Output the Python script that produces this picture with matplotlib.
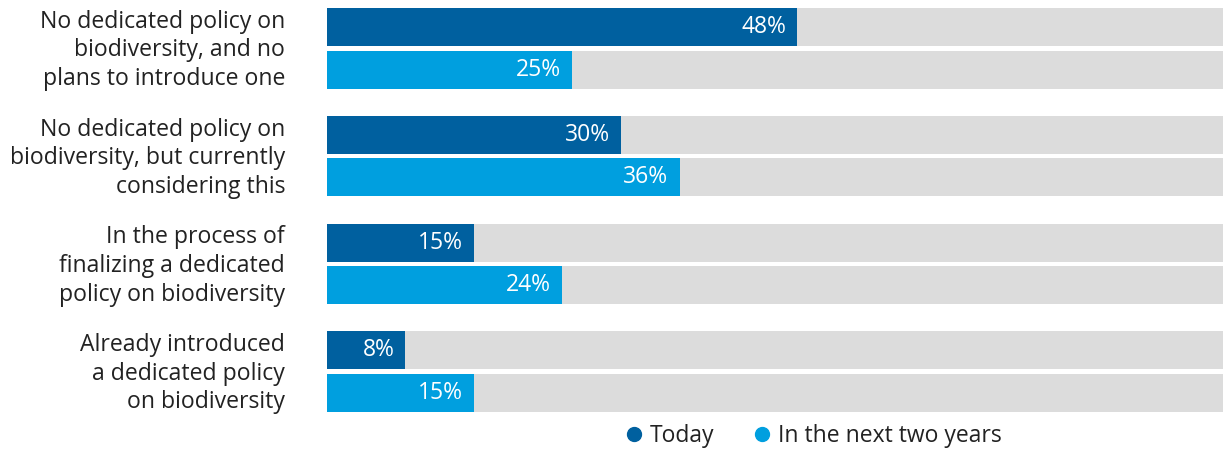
import matplotlib
matplotlib.use("Agg")
import matplotlib.pyplot as plt
from matplotlib.lines import Line2D

plt.rcParams['font.family'] = ['Open Sans', 'DejaVu Sans']

categories = [
    "No dedicated policy on\nbiodiversity, and no\nplans to introduce one",
    "No dedicated policy on\nbiodiversity, but currently\nconsidering this",
    "In the process of\nfinalizing a dedicated\npolicy on biodiversity",
    "Already introduced\na dedicated policy\non biodiversity",
]
today = [48, 30, 15, 8]
next_two_years = [25, 36, 24, 15]
series_names = ["Today", "In the next two years"]

dark_blue = "#00609f"
light_blue = "#009fdf"
grey = "#dcdcdc"
text_col = "#222222"

fig = plt.figure(figsize=(12.23, 4.5), dpi=100)
ax = fig.add_axes([0.2674, 0.0844, 0.7326, 0.8978])

h = 0.352
off = 0.197
ys = list(range(len(categories)))

for i, y in enumerate(ys):
    for val, dy, col in [(today[i], -off, dark_blue), (next_two_years[i], off, light_blue)]:
        ax.barh(y + dy, 100, height=h, color=grey, linewidth=0)
        ax.barh(y + dy, val, height=h, color=col, linewidth=0)
        ax.annotate(f"{val}%", xy=(val, y + dy), xytext=(-8, 0),
                    textcoords="offset points", ha="right", va="center",
                    color="white", fontsize=16.5)

ax.set_xlim(0, 91.5)
ax.set_ylim(3.376, -0.376)
ax.axis("off")

# category names sit right-aligned to the left of each pair of bars
for i, y in enumerate(ys):
    fig.text(285 / 1223, 1 - (50.5 + 107.7 * i) / 450, categories[i],
             ha="right", va="center", fontsize=16.6, color=text_col,
             linespacing=1.26)

handles = [Line2D([], [], marker="o", linestyle="", markersize=10, color=c)
           for c in (dark_blue, light_blue)]
leg = fig.legend(handles, series_names, loc="center", bbox_to_anchor=(0.664, 0.03),
                 ncol=2, frameon=False, fontsize=16.5, handletextpad=0.2,
                 columnspacing=1.6, handlelength=1.0)
for t in leg.get_texts():
    t.set_color(text_col)

fig.savefig("out.png", dpi=100)
